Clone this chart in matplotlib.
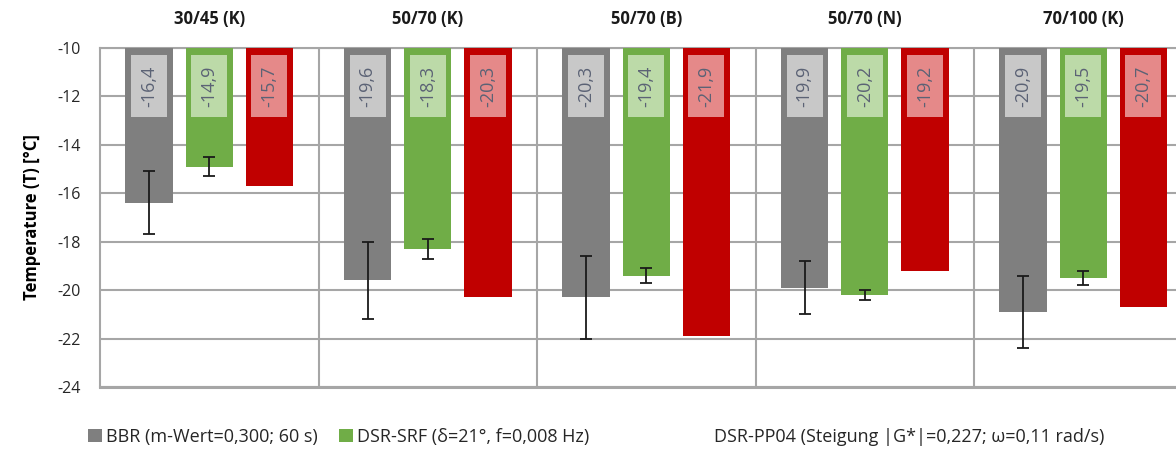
import matplotlib
matplotlib.use('Agg')
import matplotlib.pyplot as plt
from matplotlib.patches import Patch, Rectangle
import numpy as np

# Daten
groups = ['30/45 (K)', '50/70 (K)', '50/70 (B)', '50/70 (N)', '70/100 (K)']
bbr = [-16.4, -19.6, -20.3, -19.9, -20.9]
bbr_err = [1.3, 1.6, 1.7, 1.1, 1.5]
srf = [-14.9, -18.3, -19.4, -20.2, -19.5]
srf_err = [0.4, 0.4, 0.3, 0.2, 0.3]
pp04 = [-15.7, -20.3, -21.9, -19.2, -20.7]
series_names = ['BBR (m-Wert=0,300; 60 s)',
                'DSR-SRF (δ=21°, f=0,008 Hz)',
                'DSR-PP04 (Steigung |G*|=0,227; ω=0,11 rad/s)']
yticks = [-10, -12, -14, -16, -18, -20, -22, -24]

bar_colors = ['#7f7f7f', '#70ad47', '#c00000']
box_colors = ['#c8c8c8', '#bcdaa8', '#e58989']
txt_color = '#5b6275'
grid_color = '#a6a6a6'

plt.rcParams['font.family'] = ['Open Sans', 'DejaVu Sans']

fig = plt.figure(figsize=(11.76, 4.62), dpi=100)
ax = fig.add_axes([100 / 1176, 1 - 387 / 462, 1092.5 / 1176, 339 / 462])

top = -10
width = 0.217
offsets = [-0.275, 0.0, 0.275]
x = np.arange(len(groups)) + 0.5

for k, (vals, errs) in enumerate([(bbr, bbr_err), (srf, srf_err), (pp04, None)]):
    xs = x + offsets[k]
    heights = [v - top for v in vals]
    ax.bar(xs, heights, width, bottom=top, color=bar_colors[k], zorder=3)
    if errs is not None:
        ax.errorbar(xs, vals, yerr=errs, fmt='none', ecolor='#1a1a1a',
                    elinewidth=1.3, capsize=4, capthick=1.3, zorder=4)
    for xi, v in zip(xs, vals):
        ax.add_patch(Rectangle((xi - 0.082, -12.85), 0.164, 2.56,
                               facecolor=box_colors[k], edgecolor='none', zorder=5))
        ax.text(xi, -11.57, f'{v:.1f}'.replace('.', ','), rotation=90,
                ha='center', va='center', fontsize=13, color=txt_color, zorder=6)

ax.set_xlim(0, len(groups))
ax.set_ylim(-24, -10)
ax.set_yticks(yticks)
ax.set_yticklabels([str(t) for t in yticks], fontsize=11.5, color='#262626')
ax.tick_params(axis='y', length=0, pad=14)
ax.set_xticks([])

for t in yticks:
    ax.axhline(t, color=grid_color, lw=1.5, zorder=1)
for i in range(1, len(groups)):
    ax.axvline(i, color=grid_color, lw=1.5, zorder=1)
for s in ax.spines.values():
    s.set_color(grid_color)
    s.set_linewidth(1.5)
ax.spines['right'].set_visible(False)
ax.spines['bottom'].set_linewidth(2.2)

for xi, g in zip(x, groups):
    ax.text(xi, 1.06, g, transform=ax.get_xaxis_transform(), ha='center',
            va='bottom', fontsize=12, fontweight='bold', color='#1a1a1a')

ax.set_ylabel('Temperature (T) [°C]', fontsize=12, fontweight='bold', labelpad=12)

# Legende: jeder Eintrag einzeln positioniert
handles = [Patch(facecolor=bar_colors[0]), Patch(facecolor=bar_colors[1]),
           Patch(facecolor='none', edgecolor='none')]
legend_x = [72, 323, 680]
for h, name, lx in zip(handles, series_names, legend_x):
    fig.legend([h], [name], loc='center left', bbox_to_anchor=(lx / 1176, 1 - 437 / 462),
               frameon=False, fontsize=13, handlelength=0.75, handleheight=0.75,
               handletextpad=0.25, labelcolor='#262626')

fig.savefig('out.png', dpi=100)
